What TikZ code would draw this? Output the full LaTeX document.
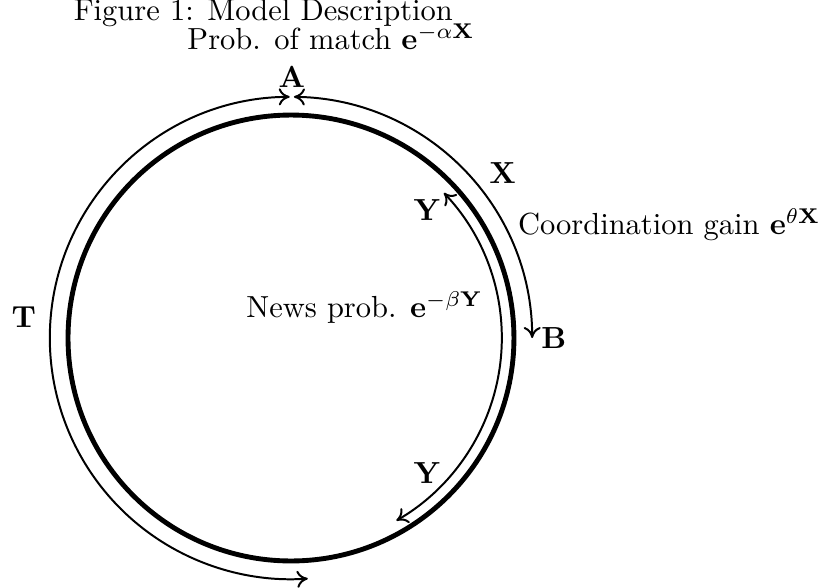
\documentclass[tikz,border=0pt]{standalone}
\usetikzlibrary{arrows.meta}

\begin{document}
\begin{tikzpicture}[
    >={Computer Modern Rightarrow[length=3.6pt, width=5.6pt]},
    ring/.style={line width=1.6pt},
    flow/.style={<->, line width=0.65pt},
    lbl/.style={inner sep=0pt, font=\normalsize}
  ]
    \useasboundingbox (-3.354,-2.870) rectangle (6.155,3.896);
    \coordinate (c) at (0,0);

    % the circle and the three arcs
    \draw[ring] (c) circle[radius=2.57];
    \draw[flow] ([shift={(90.3:2.78)}]c) arc[start angle=90.3, end angle=274, radius=2.78];
    \draw[flow] ([shift={(89.3:2.78)}]c) arc[start angle=89.3, end angle=0, radius=2.78];
    \draw[flow] ([shift={(43.5:2.43)}]c) arc[start angle=43.5, end angle=-60, radius=2.43];

    % labels
    \node[lbl, anchor=base west] (caption) at (-2.51,3.655) {Figure 1: Model Description};
    \node[lbl, anchor=base west] (match) at (-1.20,3.32) {Prob. of match $\mathbf{e}^{-\alpha\mathbf{X}}$};
    \node[lbl] (A) at (0.01,3.01) {$\mathbf{A}$};
    \node[lbl] (X) at (2.44,1.90) {$\mathbf{X}$};
    \node[lbl] (Ytop) at (1.57,1.47) {$\mathbf{Y}$};
    \node[lbl, anchor=base west] (gain) at (2.61,1.19) {Coordination gain $\mathbf{e}^{\theta\mathbf{X}}$};
    \node[lbl] (B) at (3.03,0.0) {$\mathbf{B}$};
    \node[lbl] (T) at (-3.08,0.24) {$\mathbf{T}$};
    \node[lbl, anchor=base] (news) at (0.85,0.24) {News prob. $\mathbf{e}^{-\beta\mathbf{Y}}$};
    \node[lbl] (Ybot) at (1.57,-1.56) {$\mathbf{Y}$};
  \end{tikzpicture}
\end{document}
